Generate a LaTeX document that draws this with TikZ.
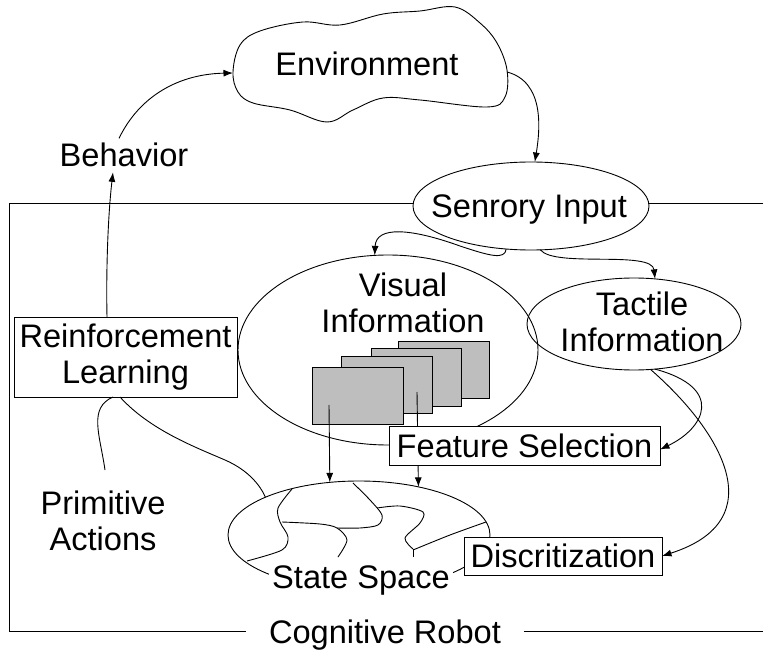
\documentclass[tikz,border=0pt]{standalone}
\usepackage{fontspec}
\setmainfont{Liberation Sans}
\usetikzlibrary{shapes.geometric,arrows.meta}
\definecolor{panelgray}{RGB}{190,190,190}

\begin{document}
\begin{tikzpicture}[x=1pt,y=-1pt,line width=0.9pt,
  every node/.style={font=\fontsize{32.6}{36.5}\selectfont,inner sep=0pt,outer sep=0pt},
  conn/.style={-{Latex[length=9.5pt,width=7pt]}},
  boxnode/.style={draw,fill=white,rectangle,align=center},
  oval/.style={draw,ellipse},
  panel/.style={draw,fill=panelgray,rectangle,minimum width=91,minimum height=57},
  txt/.style={align=center}]

\useasboundingbox (0,0) rectangle (763,655);

% ---- robot frame with its caption
\node[anchor=base,inner xsep=23pt] (cog) at (385,643) {Cognitive Robot};
\coordinate (ftl) at (9,203);
\coordinate (fbl) at (9,631);
\coordinate (ftr) at (763,203);
\coordinate (fbr) at (763,631);
\draw (ftr) -- (ftl) -- (fbl) -- (fbl -| cog.west);
\draw (fbr -| cog.east) -- (fbr);

% ---- environment cloud
\draw plot[smooth cycle,tension=0.6] coordinates {
  (233,72) (240,45) (260,31) (303,22) (340,25) (383,14) (420,11) (455,7)
  (480,23) (497,43) (507,70) (505,97) (487,107) (420,100) (383,98)
  (353,110) (327,122) (290,110) (253,103) (238,92)};
\node[anchor=base] (env) at (367,76) {Environment};
\coordinate (envL) at (233,73);
\coordinate (envR) at (507,72);

% ---- perception ellipses
\node[oval,minimum width=300,minimum height=190] (vis) at (388,350) {};
\node[oval,minimum width=214,minimum height=92] (tac) at (634,324) {};

% ---- state space with its partition
\node[oval,minimum width=262,minimum height=108] (ss) at (359,535) {};
\draw plot[smooth] coordinates {(292,489) (278,508) (280,522) (288,537) (282,550) (247,561)};
\draw plot[smooth] coordinates {(282,522) (320,524) (337,528) (347,540) (338,557)};
\draw plot[smooth] coordinates {(353,483) (370,500) (382,515) (378,525) (360,528) (337,528)};
\draw plot[smooth] coordinates {(377,508) (400,506) (423,512) (420,523) (405,538) (413,549)};
\draw (413,549) -- (413,557);
\draw plot[smooth] coordinates {(413,550) (450,535) (486,522)};

% ---- stacked image frames
\node[panel,minimum width=91,minimum height=57] (r4) at (443.5,369.5) {};
\node[panel,minimum width=90,minimum height=58] (r3) at (416,377) {};
\node[panel] (r2) at (386.5,384.5) {};
\node[panel] (r1) at (357.5,395.5) {};
\coordinate (a1) at (329,405);
\coordinate (a2) at (417,392);
\draw[conn] (a1) -- (ss.119.5);
\draw[conn] (a2) -- (ss.39.6);

% ---- processing boxes
\node[boxnode,minimum width=271,minimum height=39] (fs) at (524.5,445.5) {Feature Selection};
\node[anchor=base,fill=white,inner sep=3pt] (sslbl) at (361,588) {State Space};
\node[boxnode,minimum width=198,minimum height=38] (dis) at (563,556) {Discritization};
\node[boxnode,minimum width=223,minimum height=80,font=\fontsize{32.6}{36}\selectfont] (rl) at (125.5,357) {Reinforcement\\Learning};

% ---- sensory input
\node[oval,fill=white,minimum width=236,minimum height=88] (sens) at (531,206) {};
\node[anchor=base] (senslbl) at (529,218) {Senrory Input};

% ---- labels
\node[txt] (vislbl) at (403,302.6) {Visual\\Information};
\node[txt] (taclbl) at (642,321.6) {Tactile\\Information};
\node[txt,font=\fontsize{32.6}{36}\selectfont] (prim) at (103,521) {Primitive\\Actions};
\node[anchor=base,inner sep=5pt] (beh) at (124,167) {Behavior};
\coordinate (pa) at (105,470);

% ---- connectors
\draw[conn] ([xshift=-18.5pt]rl.north) .. controls (106,270) and (108,215) .. ([xshift=-11pt]beh.south);
\draw[conn] ([xshift=-5pt]beh.north) .. controls (140,95) and (180,74) .. (envL);
\draw[conn] (envR) .. controls (545,82) and (540,130) .. (sens.85);
\draw[conn] (sens.-120) .. controls (505,260) and (490,256) .. (460,246)
  .. controls (410,228) and (376,226) .. (vis.98.5);
\draw[conn] (sens.-78) .. controls (555,268) and (652,250) .. (tac.65.5);
\draw[conn] (tac.-65) .. controls (725,388) and (705,428) .. ([yshift=-4pt]fs.east);
\draw[conn] (tac.-70) .. controls (720,430) and (775,520) .. (dis.east);
\draw (pa) .. controls (100,435) and (88,408) .. ([xshift=-12.5pt]rl.south);
\draw ([xshift=-5.5pt]rl.south) .. controls (150,430) and (195,447) .. (225,460)
  .. controls (248,470) and (260,485) .. (ss.158);

\end{tikzpicture}
\end{document}
